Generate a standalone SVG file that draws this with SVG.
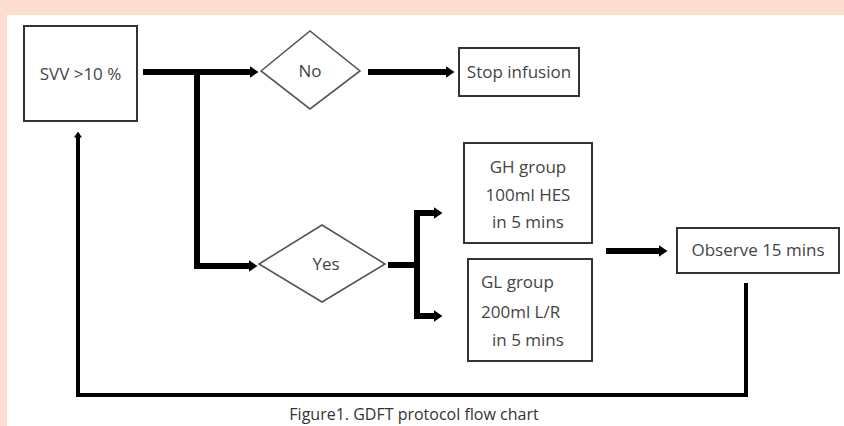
<svg xmlns="http://www.w3.org/2000/svg" width="844" height="426" viewBox="0 0 844 426">
<style>
.box{fill:#fff;stroke:#333;stroke-width:2}
.dia{fill:#fff;stroke:#555;stroke-width:1.6}
.t{font-family:"Open Sans","Liberation Sans",sans-serif;font-size:17px;fill:#444;text-anchor:middle}
.tl{font-family:"Open Sans","Liberation Sans",sans-serif;font-size:17px;fill:#444}
.cap{font-family:"Open Sans","Liberation Sans",sans-serif;font-size:16px;fill:#333;text-anchor:middle}
.c{fill:none;stroke:#000;stroke-width:6}
.r{fill:none;stroke:#000;stroke-width:4}
</style>
<defs>
<marker id="ah" markerUnits="userSpaceOnUse" viewBox="0 0 9 12" markerWidth="9" markerHeight="12" refX="0.5" refY="6" orient="auto"><path d="M0,0 L9,6 L0,12 z" fill="#000"/></marker>
<marker id="ahs" markerUnits="userSpaceOnUse" viewBox="0 0 6 8" markerWidth="6" markerHeight="8" refX="0.5" refY="4" orient="auto"><path d="M0,0 L6,4 L0,8 z" fill="#000"/></marker>
</defs>
<rect x="0" y="0" width="844" height="426" fill="#fcddd0"/>
<rect x="7" y="15" width="837" height="411" fill="#fff"/>
<g id="connectors">
<path class="c" d="M143,72 H250" marker-end="url(#ah)"/>
<path class="c" d="M197,72 V266 H249" marker-end="url(#ah)"/>
<path class="c" d="M368,72 H446" marker-end="url(#ah)"/>
<path class="c" d="M388,265 H417"/>
<path class="c" d="M417,213 V316"/>
<path class="c" d="M414,213 H434" marker-end="url(#ah)"/>
<path class="c" d="M414,316 H434" marker-end="url(#ah)"/>
<path class="c" d="M606,251 H659" marker-end="url(#ah)"/>
<path class="r" d="M746,283 V395 H78 V137" marker-end="url(#ahs)"/>
</g>
<g id="svv">
<rect class="box" x="24" y="26" width="113" height="95"/>
<text class="t" x="80.5" y="80">SVV &gt;10 %</text>
</g>
<g id="no">
<polygon class="dia" points="261,71 310,31 360,71 310,109"/>
<text class="t" x="310" y="77">No</text>
</g>
<g id="stop">
<rect class="box" x="459" y="48" width="120" height="48"/>
<text class="t" x="519" y="78">Stop infusion</text>
</g>
<g id="yes">
<polygon class="dia" points="259,264 322,225 385,264 322,302"/>
<text class="t" x="326" y="270">Yes</text>
</g>
<g id="gh">
<rect class="box" x="464" y="143" width="128" height="100"/>
<text class="t" x="528" y="173">GH group</text>
<text class="t" x="528" y="201">100ml HES</text>
<text class="t" x="528" y="228">in 5 mins</text>
</g>
<g id="gl">
<rect class="box" x="468" y="259" width="124" height="102"/>
<text class="tl" x="481" y="288">GL group</text>
<text class="tl" x="481" y="318">200ml L/R</text>
<text class="tl" x="492" y="346">in 5 mins</text>
</g>
<g id="observe">
<rect class="box" x="677" y="228" width="162" height="45"/>
<text class="t" x="758" y="256">Observe 15 mins</text>
</g>
<text class="cap" x="414" y="420">Figure1. GDFT protocol flow chart</text>
</svg>
